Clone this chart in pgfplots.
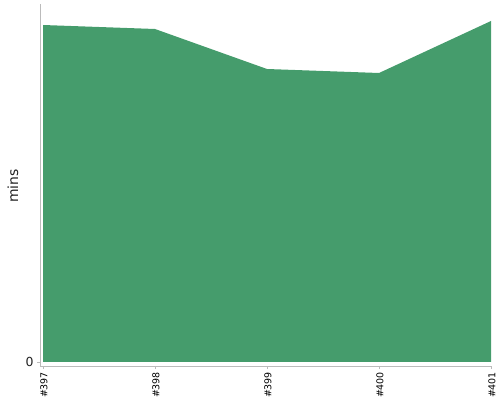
\documentclass[border=0pt]{standalone}
\usepackage{fontspec}
\setmainfont{DejaVu Sans}
\usepackage{pgfplots}
\pgfplotsset{compat=1.18}
\definecolor{areagreen}{HTML}{459C6C}
\definecolor{axisgray}{HTML}{BBBBBB}
\definecolor{txt}{HTML}{222222}
\newcommand{\hs}{\#\kern-0.6bp}
\begin{document}
\begin{tikzpicture}
\path[use as bounding box] (0,0) rectangle (500bp,400bp);
\begin{axis}[
  at={(40bp,34bp)}, anchor=south west,
  scale only axis, width=451bp, height=362bp,
  xmin=-0.027, xmax=4, ymin=-4, ymax=358,
  axis lines=left, axis line style={axisgray, -},
  xtick={0,1,2,3,4},
  xticklabels={\hs397,\hs398,\hs399,\hs400,\hs401},
  x tick label style={rotate=90, anchor=east, font=\fontsize{9.5}{9.5}\selectfont, text=black, yshift=-1bp},
  ytick={0}, y tick label style={font=\fontsize{12.5}{12.5}\selectfont, text=txt},
  tick style={axisgray}, major tick length=3bp,
  tick align=outside,
  /pgf/number format/assume math mode=true,
  ylabel={mins},
  every axis y label/.style={at={(-27bp,180bp)}, rotate=90, anchor=center, font=\fontsize{14}{14}\selectfont, text=txt},
  clip=false,
]
\addplot[draw=none, fill=areagreen] coordinates {(0,337) (1,333) (2,293) (3,289) (4,341)} \closedcycle;
\end{axis}
\end{tikzpicture}
\end{document}
